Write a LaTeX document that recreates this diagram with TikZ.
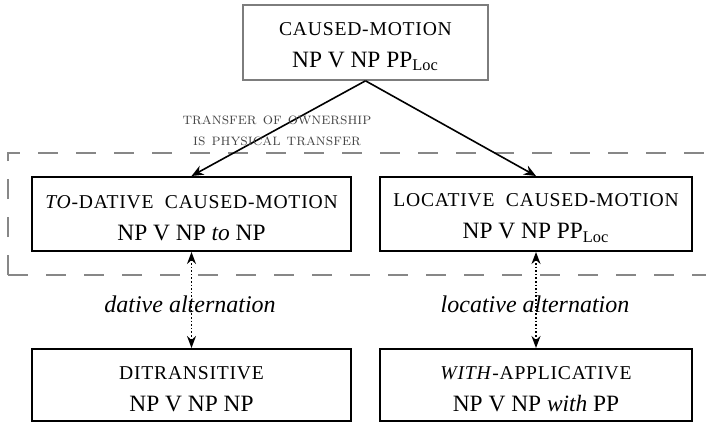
\documentclass[tikz,border=0pt]{standalone}
\usepackage{fontspec}
\newfontfamily\timesfont{Liberation Serif}
\usetikzlibrary{arrows.meta}
\definecolor{boxgray}{RGB}{125,125,125}
\definecolor{dashgray}{RGB}{135,135,135}
\definecolor{labelgray}{RGB}{70,70,70}
\newcommand{\capline}[1]{{\fontsize{9.8}{12}\selectfont\addfontfeature{LetterSpace=4}\rule{0pt}{10.5pt}#1}}

\begin{document}
\begin{tikzpicture}[x=0.5pt,y=-0.5pt,
    cxn/.style={draw=black, line width=1pt, minimum height=37pt, align=center,
        font=\timesfont\fontsize{11.7}{14}\selectfont},
    inherit/.style={-{Stealth[length=6pt,width=5pt]}, line width=0.8pt},
    altlink/.style={{Stealth[length=6pt,width=4.5pt]}-{Stealth[length=6pt,width=4.5pt]}, densely dotted, line width=0.8pt},
    altlabel/.style={font=\timesfont\itshape\fontsize{12}{14}\selectfont}]
    \useasboundingbox (0,0) rectangle (706,424);
            % shared frame round the two caused-motion subtypes
            \draw[dashgray, line width=1pt, dash pattern=on 10pt off 9pt] (8,275) -- (8,153) -- (730,153);
            \draw[dashgray, line width=1pt, dash pattern=on 10pt off 9pt] (8,275) -- (730,275);
            \node[cxn, draw=boxgray, line width=0.8pt, minimum width=122.5pt, minimum height=37.5pt] (cm) at (365.5,42.5)
                 {\capline{CAUSED-MOTION}\\[2pt] NP V NP PP\textsubscript{Loc}};
            \node[cxn, minimum width=159.5pt] (todat) at (191.5,214)
                 {\capline{\textit{TO}-DATIVE\ \ CAUSED-MOTION}\\[2pt] NP V NP \textit{to} NP};
            \node[cxn, minimum width=156pt] (loccm) at (536,214)
                 {\capline{LOCATIVE\ \ CAUSED-MOTION}\\[2pt] NP V NP PP\textsubscript{Loc}};
            \node[cxn, minimum width=159.5pt, minimum height=36pt] (ditr) at (191.5,385)
                 {\capline{DITRANSITIVE}\\[2pt] NP V NP NP};
            \node[cxn, minimum width=156pt, minimum height=36pt] (withap) at (536,385)
                 {\capline{\textit{WITH}-APPLICATIVE}\\[2pt] NP V NP \textit{with} PP};
            \draw[inherit] (cm.south) -- (todat.north);
            \draw[inherit] (cm.south) -- (loccm.north);
            \node[labelgray, align=center, font=\fontsize{8.1}{10.5}\selectfont] (meta) at (277,131)
                 {\textsc{transfer of ownership}\\\textsc{is physical transfer}};
            \draw[altlink] (todat.south) -- (ditr.north);
            \draw[altlink] (loccm.south) -- (withap.north);
            \node[altlabel] (datlab) at (190,304) {dative alternation};
            \node[altlabel] (loclab) at (535,304) {locative alternation};
        \end{tikzpicture}
\end{document}
